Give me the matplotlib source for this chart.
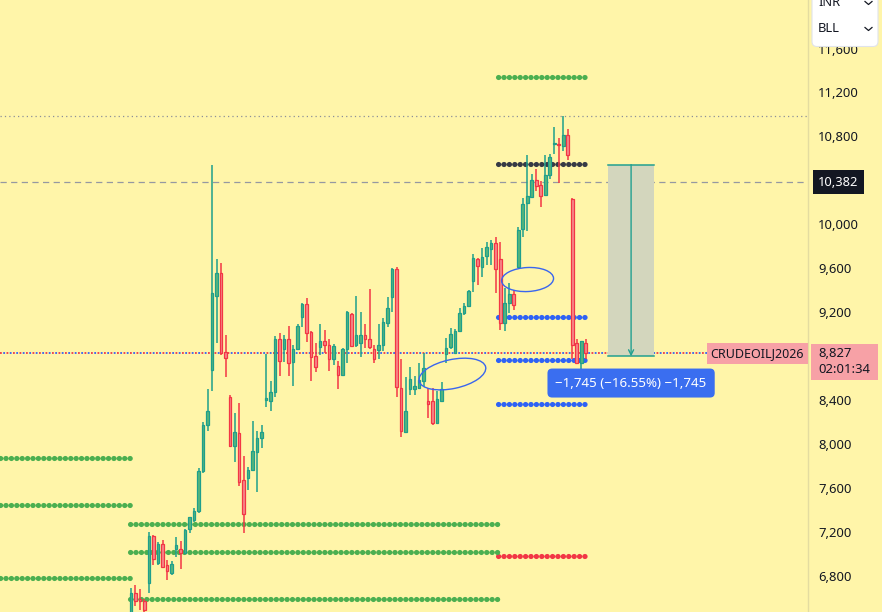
import matplotlib
matplotlib.use("Agg")
import matplotlib.pyplot as plt
import matplotlib.transforms as mtransforms
from matplotlib.patches import Ellipse, FancyBboxPatch, Rectangle
from matplotlib.lines import Line2D
import numpy as np

# ---------------- data ----------------
opens = [6440, 6643, 6588, 6575, 6734, 7164, 6922, 7091, 6898, 6830,
         7049, 7049, 7012, 7225, 7310, 7389, 7753, 8171, 8677, 9351,
         9557, 8836, 8426, 7980, 8099, 7671, 7695, 7762, 7931, 8059,
         8399, 8393, 8472, 8954, 8869, 8954, 8748, 8863, 9154, 9275,
         9021, 8802, 8881, 8936, 8899, 8772, 8711, 8626, 8863, 9184,
         8905, 8918, 8990, 8954, 8863, 8857, 8905, 9105, 9336, 9591,
         8511, 8111, 8505, 8505, 8511, 8577, 8390, 8390, 8190, 8396,
         8820, 8881, 8832, 9027, 9191, 9257, 9488, 9688, 9609, 9712,
         9779, 9828, 9682, 9100, 9282, 9366, 9609, 9955, 10192, 10252,
         10404, 10356, 10264, 10446, 10733, 10731, 10713, 10810, 10234, 8918,
         8736, 8923]
highs = [6690, 6718, 6682, 6590, 7200, 7170, 7110, 7128, 6946, 6934,
         7152, 7116, 7231, 7340, 7419, 7783, 8202, 8499, 10540, 9685,
         9648, 8993, 8447, 8283, 8374, 7889, 7792, 8211, 8120, 8174,
         8818, 8575, 8987, 9009, 8990, 9075, 8900, 9093, 9287, 9330,
         9030, 8918, 9093, 9039, 8954, 8911, 8754, 8875, 9215, 9196,
         9348, 9203, 9093, 9415, 8900, 9093, 9148, 9336, 9600, 9610,
         8772, 8608, 8699, 8620, 8736, 8827, 8511, 8511, 8486, 8566,
         8966, 9057, 9045, 9239, 9287, 9403, 9730, 9694, 9785, 9840,
         9858, 9882, 9840, 9421, 9464, 9403, 9973, 10240, 10628, 10458,
         10507, 10398, 10628, 10640, 10883, 10786, 10986, 10865, 10240, 8960,
         8940, 8954]
lows = [6400, 6527, 6491, 6470, 6643, 6898, 6898, 6873, 6764, 6812,
        6976, 6867, 7007, 7189, 7292, 7371, 7735, 8122, 8484, 8920,
        8812, 8614, 7975, 7835, 7622, 7192, 7586, 7760, 7567, 7968,
        8338, 8302, 8429, 8620, 8748, 8620, 8529, 8860, 9069, 8930,
        8577, 8657, 8809, 8832, 8668, 8717, 8499, 8620, 8741, 8881,
        8881, 8796, 8875, 8863, 8741, 8778, 8850, 9069, 9203, 8426,
        8062, 8104, 8450, 8450, 8505, 8523, 8238, 8171, 8186, 8390,
        8736, 8869, 8827, 9021, 9173, 9245, 9385, 9446, 9518, 9627,
        9633, 9373, 9039, 9027, 9196, 9221, 9609, 9888, 9942, 10250,
        10306, 10161, 10258, 10410, 10640, 10374, 10665, 10586, 8772, 8730,
        8675, 8778]
closes = [6645, 6575, 6570, 6490, 7164, 6952, 7091, 6885, 6843, 6909,
          7080, 7007, 7219, 7334, 7389, 7753, 8171, 8304, 9373, 9557,
          8830, 8781, 7980, 8108, 7658, 7367, 7762, 7938, 8053, 8108,
          8417, 8472, 8957, 8754, 8954, 8736, 8863, 9075, 9275, 9014,
          8790, 8699, 8936, 8899, 8772, 8893, 8632, 8863, 9203, 8893,
          8990, 8996, 8960, 8887, 8778, 8905, 9112, 9239, 9591, 8523,
          8122, 8304, 8590, 8529, 8584, 8693, 8365, 8190, 8408, 8499,
          8875, 9002, 9027, 9191, 9257, 9391, 9694, 9621, 9700, 9791,
          9828, 9597, 9100, 9287, 9366, 9264, 9949, 10185, 10258, 10404,
          10349, 10258, 10446, 10616, 10738, 10725, 10816, 10634, 8905, 8736,
          8936, 8827]

# 8,800 is hidden behind the last-price label in the original
price_ticks = [6800, 7200, 7600, 8000, 8400, 9200, 9600, 10000,
               10400, 10800, 11200, 11600]
symbol = "CRUDEOILJ2026"
last_price = 8827
countdown = "02:01:34"
crosshair_price = 10382
high_line_price = 10986

# support / resistance dotted levels: price, first bar, last bar, colour name
level_prices = [11340, 10549, 9157, 8766, 8365, 6982,
                7874, 7446, 6782, 7273, 7018, 6591]
level_start = [81.6, 81.6, 81.6, 81.6, 81.6, 81.6,
               -29.1, -29.1, -29.1, -0.2, -0.2, -0.2]
level_end = [101.6, 101.6, 101.6, 101.6, 101.6, 101.6,
             -0.2, -0.2, -0.2, 81.6, 81.6, 81.6]
level_kind = ["green", "black", "blue", "blue", "blue", "red",
              "green", "green", "green", "green", "green", "green"]

# price-range measurement
measure_top = 10544
measure_change = -1745
measure_pct = -16.55
measure_x0, measure_x1 = 106.0, 116.2

# hand-drawn ellipses: centre bar, centre price
ellipse_bar = [71.4, 88.1]
ellipse_price = [8638, 9498]

# ---------------- style ----------------
BG = "#fff5a9"
UP_EDGE, UP_FILL = "#1e9f8c", "#58b57a"
DN_EDGE, DN_FILL = "#f23645", "#f6898a"
LEVEL_COL = {"green": "#4caf50", "black": "#363a45", "blue": "#2e62f5", "red": "#f23645"}
TEXT = "#131722"
PINK = "#f7a1a6"
FONT = "Noto Sans"
plt.rcParams["font.family"] = [FONT, "DejaVu Sans"]

W, H = 882, 612
fig = plt.figure(figsize=(W / 100, H / 100), dpi=100, facecolor=BG)
ax = fig.add_axes([0, 0, 808 / W, 1])
ax.set_facecolor(BG)
ax.set_xlim(-29.1, 150.4)
ax.set_ylim(6472.5, 12041.75)

o = np.array(opens, float); h = np.array(highs, float)
l = np.array(lows, float); c = np.array(closes, float)
x = np.arange(len(o))
up = c >= o

# levels
for p, s, e, k in zip(level_prices, level_start, level_end, level_kind):
    ax.plot([s, e], [p, p], color=LEVEL_COL[k], lw=3.7, ls=(0, (0.05, 1.0)),
            dash_capstyle="round", zorder=2, clip_on=True)

# reference lines
ax.axhline(high_line_price, color="#8c8f99", lw=0.9, ls=(0, (1, 2.5)), zorder=1)
ax.axhline(crosshair_price, color="#9598a1", lw=0.9, ls=(0, (5, 3.5)), zorder=1)
ax.axhline(last_price, color=DN_EDGE, lw=1.3, ls=(0, (1, 2.6)), zorder=1.5)
ax.axhline(last_price, color="#2e62f5", lw=1.3, ls=(1.8, (1, 2.6)), zorder=1.5)

# measurement box
bottom = measure_top + measure_change
ax.add_patch(Rectangle((measure_x0, bottom), measure_x1 - measure_x0, -measure_change,
                       fc="#d3d6bd", ec="none", zorder=1.8))
teal = "#22a090"
ax.plot([measure_x0, measure_x1], [measure_top, measure_top], color=teal, lw=1.1, zorder=2)
ax.plot([measure_x0, measure_x1], [bottom, bottom], color=teal, lw=1.1, zorder=2)
xm = (measure_x0 + measure_x1) / 2
ax.annotate("", xy=(xm, bottom), xytext=(xm, measure_top),
            arrowprops=dict(arrowstyle="->", color=teal, lw=1.0, shrinkA=0, shrinkB=0,
                            mutation_scale=9), zorder=2)

# candles
ax.vlines(x, l, h, colors=np.where(up, UP_EDGE, DN_EDGE), lw=1.1, zorder=3)
body_b = np.minimum(o, c)
body_h = np.maximum(np.abs(c - o), 9)
ax.bar(x, body_h, bottom=body_b, width=0.62,
       color=np.where(up, UP_FILL, DN_FILL), edgecolor=np.where(up, UP_EDGE, DN_EDGE),
       linewidth=0.9, zorder=4)

# ellipses in pixel size, positioned in data
ell_specs = [(68, 29, 12), (52, 24, 3)]
for bx, bp, (ew, eh, ang) in zip(ellipse_bar, ellipse_price, ell_specs):
    tr = mtransforms.Affine2D() + mtransforms.ScaledTranslation(bx, bp, ax.transData)
    ax.add_patch(Ellipse((0, 0), ew, eh, angle=ang, fill=False, ec="#3a66ee", lw=1.0,
                         transform=tr, zorder=5))

# measurement label
lab_tr = mtransforms.offset_copy(ax.transData, fig=fig, x=0, y=-26.7 * 0.72, units="points")
ax.text(xm, bottom, f"\u2212{abs(measure_change):,} (\u2212{abs(measure_pct):.2f}%) \u2212{abs(measure_change):,}",
        transform=lab_tr, ha="center", va="center", color="white", fontsize=9.6,
        bbox=dict(boxstyle="round,pad=0.6,rounding_size=0.35", fc="#3a6ef0", ec="none"),
        zorder=6)

# axes styling
for s in ["top", "left", "bottom"]:
    ax.spines[s].set_visible(False)
ax.spines["right"].set_color("#e4dca0")
ax.spines["right"].set_linewidth(1)
ax.set_xticks([])
ax.yaxis.tick_right()
ax.set_yticks(price_ticks)
ax.set_yticklabels([f"{v:,}" for v in price_ticks])
ax.tick_params(axis="y", length=0, pad=7.3, labelsize=9.4, labelcolor=TEXT)

# crosshair price label
blend = mtransforms.blended_transform_factory(ax.transAxes, ax.transData)
cr_tr = mtransforms.offset_copy(blend, fig=fig, x=10 * 0.72, y=0, units="points")
ax.text(1.0, crosshair_price, f"{crosshair_price:,}", transform=cr_tr, ha="left", va="center",
        color="white", fontsize=9.3, fontweight="bold", clip_on=False,
        bbox=dict(boxstyle="square,pad=0.42", fc="#131722", ec="none"), zorder=7)

# last price label: pink box (pixel size) anchored at the price, two text lines
box_tr = mtransforms.offset_copy(blend, fig=fig, x=3 * 0.72, y=-27 * 0.72, units="points")
box_tr = mtransforms.Affine2D() + mtransforms.ScaledTranslation(1.0, last_price, box_tr)
ax.add_patch(Rectangle((0, 0), 67, 36, fc=PINK, ec="none", transform=box_tr,
                       clip_on=False, zorder=6))
lp1 = mtransforms.offset_copy(blend, fig=fig, x=10 * 0.72, y=0, units="points")
lp2 = mtransforms.offset_copy(blend, fig=fig, x=10 * 0.72, y=-16.5 * 0.72, units="points")
ax.text(1.0, last_price, f"{last_price:,}", transform=lp1, ha="left", va="center",
        color=TEXT, fontsize=9.4, clip_on=False, zorder=7)
ax.text(1.0, last_price, countdown, transform=lp2, ha="left", va="center",
        color=TEXT, fontsize=9.4, clip_on=False, zorder=7)

# symbol label
sy_tr = mtransforms.offset_copy(blend, fig=fig, x=-4 * 0.72, y=0, units="points")
ax.text(1.0, last_price, symbol, transform=sy_tr, ha="right", va="center", color=TEXT,
        fontsize=9.0, clip_on=False,
        bbox=dict(boxstyle="square,pad=0.3", fc=PINK, ec="none"), zorder=7)

# currency / unit dropdowns (top right)
idt = mtransforms.IdentityTransform()
fig.patches.append(FancyBboxPatch((812, H - 46.5), 66, 62, boxstyle="round,pad=0,rounding_size=5",
                                  fc="white", ec="#e0e3eb", lw=0.8, transform=idt, figure=fig,
                                  zorder=10))
for txt, yy in [("INR", H - 3), ("BLL", H - 29)]:
    fig.text(818 / W, yy / H, txt, ha="left", va="center", fontsize=9.3, color=TEXT, zorder=11)
    fig.lines.append(Line2D([865, 868.5, 872], [yy + 1.5, yy - 1.5, yy + 1.5], color=TEXT,
                            lw=0.9, transform=idt, figure=fig, zorder=11))

fig.savefig("out.png", dpi=100, facecolor=BG)
